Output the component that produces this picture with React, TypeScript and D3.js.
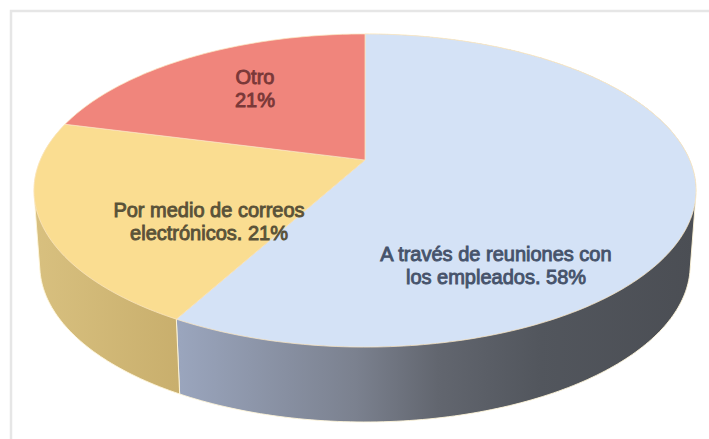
import React from "react";
import * as d3 from "d3";

// Survey answers, in clockwise order from twelve o'clock.
const categories = ["A través de reuniones con los empleados", "Por medio de correos electrónicos", "Otro"];
const shares = [58, 21, 21];
const topColors = ["#d4e2f6", "#fadd91", "#f0857c"];
const labelLines = [
  ["A través de reuniones con", "los empleados. 58%"],
  ["Por medio de correos", "electrónicos. 21%"],
  ["Otro", "21%"],
];
const labelColors = ["#46536b", "#5a5238", "#7a3838"];
const labelAnchors: [number, number][] = [[496, 261], [209, 217], [255, 84]];

const WIDTH = 709;
const HEIGHT = 439;

// Projects a point of the unit disc onto the tilted plane of a pie face.
const tilt = -0.195;
function face(cx: number, cy: number, k: number, a: number) {
  return (theta: number, r = 1): [number, number] => {
    const x = r * Math.sin(theta);
    const y = -r * Math.cos(theta);
    const w = 1 + tilt * y;
    return [cx + (k * x) / w, (a * y + cy) / w];
  };
}
const topFace = face(365, 160, 324.7, 119.4);
const baseFace = face(365, 234.4, 319, 105.3);

const line = d3.line();

function arcPoints(project: (t: number) => [number, number], a0: number, a1: number) {
  const n = Math.max(2, Math.ceil((a1 - a0) * 60));
  return d3.range(n + 1).map((i) => project(a0 + ((a1 - a0) * i) / n));
}

const slices = d3.pie<number>().sort(null).value((d) => d)(shares);

export default function App() {
  return (
    <svg
      width={WIDTH}
      height={HEIGHT}
      viewBox={`0 0 ${WIDTH} ${HEIGHT}`}
      style={{ position: "absolute", left: 0, top: 0, background: "#fff" }}
    >
      <defs>
        <linearGradient id="wall-0" gradientUnits="userSpaceOnUse" x1={180} x2={695} y1={0} y2={0}>
          <stop offset="0" stopColor="#9aa5bd" />
          <stop offset="0.34" stopColor="#7b818f" />
          <stop offset="0.5" stopColor="#62666f" />
          <stop offset="0.7" stopColor="#52565d" />
          <stop offset="1" stopColor="#4b4e54" />
        </linearGradient>
        <linearGradient id="wall-1" gradientUnits="userSpaceOnUse" x1={35} x2={185} y1={0} y2={0}>
          <stop offset="0" stopColor="#d8c07f" />
          <stop offset="1" stopColor="#c8ae6c" />
        </linearGradient>
      </defs>

      <path d={`M11,${HEIGHT} V11 H${WIDTH}`} fill="none" stroke="#e6e6e6" strokeWidth={2.5} />

      {/* Side walls: the hull of each slice's two rims gives the tangent silhouette; the top face hides the rest. */}
      <g>
        {slices.slice(0, 2).map((s, i) => {
          const upper = arcPoints(topFace, s.startAngle, s.endAngle);
          const lower = arcPoints(baseFace, s.startAngle, s.endAngle);
          const hull = d3.polygonHull([...upper, ...lower]) as [number, number][];
          return (
            <path
              key={categories[i] + "-wall"}
              d={line(hull) + "Z"}
              fill={`url(#wall-${i})`}
              stroke="#fff6da"
              strokeWidth={0.9}
            />
          );
        })}
      </g>

      <g>
        {slices.map((s, i) => {
          const rim = arcPoints(topFace, s.startAngle, s.endAngle);
          return (
            <path
              key={categories[i]}
              d={line([topFace(0, 0), ...rim]) + "Z"}
              fill={topColors[i]}
              stroke="#fbe6c0"
              strokeOpacity={0.75}
              strokeWidth={1}
              strokeLinejoin="round"
            />
          );
        })}
      </g>

      <g fontFamily="'Liberation Sans', Arial, sans-serif" fontSize={20} textAnchor="middle" strokeWidth={0.9}>
        {labelLines.map((lines, i) => (
          <text key={categories[i] + "-label"} fill={labelColors[i]} stroke={labelColors[i]}>
            {lines.map((t, j) => (
              <tspan key={t} x={labelAnchors[i][0]} y={labelAnchors[i][1] + j * 22.5}>
                {t}
              </tspan>
            ))}
          </text>
        ))}
      </g>
    </svg>
  );
}
